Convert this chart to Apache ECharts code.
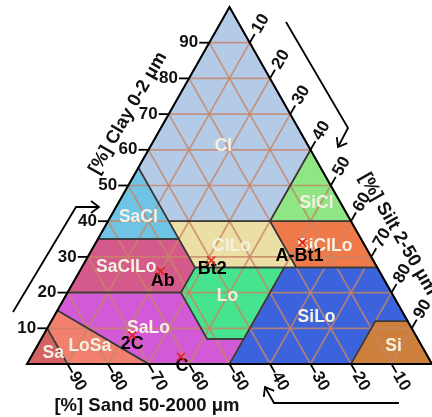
<!DOCTYPE html>
<html>
<head>
<meta charset="utf-8">
<script src="https://cdn.jsdelivr.net/npm/echarts@6/dist/echarts.min.js"></script>
<style>
  html, body { margin: 0; padding: 0; background: #ffffff; }
  #chart { width: 432px; height: 417px; }
</style>
</head>
<body>
<div id="chart"></div>
<script>
// Texture classes, each outlined by its corner points as [sand, silt, clay] in %
const classNames = ['Cl', 'SiCl', 'SaCl', 'ClLo', 'SiClLo', 'SaClLo', 'Lo', 'SiLo', 'Si', 'SaLo', 'LoSa', 'Sa'];
const classVertices = [
  [[45, 0, 55], [45, 15, 40], [20, 40, 40], [0, 40, 60], [0, 0, 100]],
  [[20, 40, 40], [0, 60, 40], [0, 40, 60]],
  [[65, 0, 35], [45, 20, 35], [45, 0, 55]],
  [[45, 20, 35], [45, 28, 27], [20, 53, 27], [20, 40, 40], [45, 15, 40]],
  [[20, 53, 27], [0, 73, 27], [0, 60, 40], [20, 40, 40]],
  [[80, 0, 20], [52, 28, 20], [45, 28, 27], [45, 20, 35], [65, 0, 35]],
  [[52, 41, 7], [43, 50, 7], [23, 50, 27], [45, 28, 27], [52, 28, 20]],
  [[50, 50, 0], [20, 80, 0], [8, 80, 12], [0, 88, 12], [0, 73, 27], [23, 50, 27], [43, 50, 7]],
  [[20, 80, 0], [0, 100, 0], [0, 88, 12], [8, 80, 12]],
  [[70, 30, 0], [50, 50, 0], [43, 50, 7], [52, 41, 7], [52, 28, 20], [80, 0, 20], [85, 0, 15]],
  [[90, 10, 0], [70, 30, 0], [85, 0, 15], [90, 0, 10]],
  [[100, 0, 0], [90, 10, 0], [90, 0, 10]]
];
const classColors = ['#b4cbe8', '#8ee684', '#6fc4e6', '#ebdfa5', '#f07a4a', '#d45a8c',
                     '#46e48e', '#3b63dc', '#cd803c', '#d25ad6', '#f2806e', '#d46262'];
// where each class name is written, as [sand, silt, clay]
const classLabelAt = [
  [21, 18, 61], [6, 49, 45], [52, 7, 41], [33, 34, 33], [10, 57, 33], [62, 11, 27],
  [41, 40, 19], [22, 65, 13], [7, 88, 5], [65, 25, 10], [82, 13, 5], [92, 5, 3]
];

// Soil horizons, [%] of each fraction
const sampleNames = ['Ab', 'Bt2', 'A-Bt1', '2C', 'C'];
const sampleSand = [54, 40, 15, 70, 61];
const sampleSilt = [20, 31, 51, 22, 37];
const sampleClay = [26, 29, 34, 8, 2];
const sampleLabelShift = [[2, 10], [1, 9], [-3, 13], [0, 9], [1, 9]];

// Axis tick values in %
const tickValues = [10, 20, 30, 40, 50, 60, 70, 80, 90];

const H = Math.sqrt(3) / 2;
function toXY(sand, silt, clay) {
  return [silt + clay / 2, clay * H];
}

const FAMILY = '"Liberation Sans", Arial, sans-serif';
const INK = '#111111';

function arrowHead(tip, dir, len, half) {
  const n = Math.hypot(dir[0], dir[1]);
  const d = [dir[0] / n, dir[1] / n];
  const p = [-d[1], d[0]];
  const b = [tip[0] - d[0] * len, tip[1] - d[1] * len];
  return [[b[0] + p[0] * half, b[1] + p[1] * half], tip, [b[0] - p[0] * half, b[1] - p[1] * half]];
}

const chart = echarts.init(document.getElementById('chart'), null, { renderer: 'canvas' });

const gridItems = [];
tickValues.forEach(v => { for (let k = 0; k < 3; k++) gridItems.push([k, v]); });

const option = {
  animation: false,
  grid: { left: 27, top: 7, width: 410, height: 357 },
  xAxis: { type: 'value', min: 0, max: 100, show: false },
  yAxis: { type: 'value', min: 0, max: 100 * H, show: false },
  series: [
    {
      // filled texture classes
      type: 'custom', coordinateSystem: 'cartesian2d', z: 1, silent: true,
      data: classNames.map((n, i) => [i, 0]),
      renderItem: (params, api) => {
        const i = api.value(0);
        const pts = classVertices[i].map(v => api.coord(toXY(v[0], v[1], v[2])));
        return { type: 'polygon', shape: { points: pts }, style: { fill: classColors[i], stroke: null } };
      }
    },
    {
      // 10 % grid for clay, sand and silt
      type: 'custom', coordinateSystem: 'cartesian2d', z: 2, silent: true,
      data: gridItems,
      renderItem: (params, api) => {
        const k = api.value(0), v = api.value(1);
        let a, b;
        if (k === 0) { a = toXY(100 - v, 0, v); b = toXY(0, 100 - v, v); }
        else if (k === 1) { a = toXY(v, 100 - v, 0); b = toXY(v, 0, 100 - v); }
        else { a = toXY(100 - v, v, 0); b = toXY(0, v, 100 - v); }
        const p1 = api.coord(a), p2 = api.coord(b);
        return { type: 'line', shape: { x1: p1[0], y1: p1[1], x2: p2[0], y2: p2[1] },
                 style: { stroke: 'rgba(200,132,100,0.8)', lineWidth: 1.7 } };
      }
    },
    {
      // class borders
      type: 'custom', coordinateSystem: 'cartesian2d', z: 3, silent: true,
      data: classNames.map((n, i) => [i, 0]),
      renderItem: (params, api) => {
        const i = api.value(0);
        const pts = classVertices[i].map(v => api.coord(toXY(v[0], v[1], v[2])));
        return { type: 'polygon', shape: { points: pts },
                 style: { fill: null, stroke: '#3a3a3a', lineWidth: 1.5, lineJoin: 'round' } };
      }
    },
    {
      // triangle frame
      type: 'custom', coordinateSystem: 'cartesian2d', z: 4, silent: true,
      data: [[0, 0]],
      renderItem: (params, api) => {
        const pts = [toXY(100, 0, 0), toXY(0, 100, 0), toXY(0, 0, 100)].map(p => api.coord(p));
        return { type: 'polygon', shape: { points: pts },
                 style: { fill: null, stroke: '#000', lineWidth: 2, lineJoin: 'miter' } };
      }
    },
    {
      // axis ticks and their numbers
      type: 'custom', coordinateSystem: 'cartesian2d', z: 4, silent: true,
      data: gridItems,
      renderItem: (params, api) => {
        const k = api.value(0), v = api.value(1);
        let p, dir, dist, rot, align;
        if (k === 0) {
          p = api.coord(toXY(100 - v, 0, v)); dir = [-1, 0]; dist = 11; rot = 0; align = 'right';
        } else if (k === 1) {
          p = api.coord(toXY(v, 100 - v, 0)); dir = [0.5, H]; dist = 20; rot = -Math.PI / 3; align = 'center';
        } else {
          p = api.coord(toXY(0, v, 100 - v)); dir = [0.5, -H]; dist = 22; rot = Math.PI / 3; align = 'center';
        }
        const tl = 10;
        return {
          type: 'group',
          children: [
            { type: 'line', shape: { x1: p[0], y1: p[1], x2: p[0] + dir[0] * tl, y2: p[1] + dir[1] * tl },
              style: { stroke: '#000', lineWidth: 1.8 } },
            { type: 'text', x: p[0] + dir[0] * dist, y: p[1] + dir[1] * dist, rotation: rot,
              style: { text: String(v), font: 'bold 17px ' + FAMILY, fill: INK, align: align, verticalAlign: 'middle' } }
          ]
        };
      }
    },
    {
      // class names
      type: 'custom', coordinateSystem: 'cartesian2d', z: 5, silent: true,
      data: classNames.map((n, i) => [i, 0]),
      renderItem: (params, api) => {
        const i = api.value(0);
        const a = classLabelAt[i];
        const p = api.coord(toXY(a[0], a[1], a[2]));
        return { type: 'text', x: p[0], y: p[1],
                 style: { text: classNames[i], font: 'bold 17.5px ' + FAMILY,
                          fill: '#f5f1e0', align: 'center', verticalAlign: 'middle' } };
      }
    },
    {
      // soil horizon positions and names
      type: 'custom', coordinateSystem: 'cartesian2d', z: 6, silent: true,
      data: sampleNames.map((n, i) => [i, 0]),
      renderItem: (params, api) => {
        const i = api.value(0);
        const p = api.coord(toXY(sampleSand[i], sampleSilt[i], sampleClay[i]));
        const s = 4;
        const sh = sampleLabelShift[i];
        return {
          type: 'group',
          children: [
            { type: 'text', x: p[0] + sh[0], y: p[1] + sh[1],
              style: { text: sampleNames[i], font: 'bold 18px ' + FAMILY,
                       fill: '#000', align: 'center', verticalAlign: 'middle' } },
            { type: 'line', shape: { x1: p[0] - s, y1: p[1] - s, x2: p[0] + s, y2: p[1] + s },
              style: { stroke: '#e4231c', lineWidth: 1.6 } },
            { type: 'line', shape: { x1: p[0] - s, y1: p[1] + s, x2: p[0] + s, y2: p[1] - s },
              style: { stroke: '#e4231c', lineWidth: 1.6 } }
          ]
        };
      }
    }
  ],
  graphic: [
    // axis titles
    { type: 'text', x: 128, y: 113, rotation: Math.PI / 3, z: 10,
      style: { text: '[%] Clay 0-2 \u03bcm', font: 'bold 18.5px ' + FAMILY,
               fill: INK, align: 'center', verticalAlign: 'middle' } },
    { type: 'text', x: 398, y: 234, rotation: -Math.PI / 3, z: 10,
      style: { text: '[%] Silt 2-50 \u03bcm', font: 'bold 18.5px ' + FAMILY,
               fill: INK, align: 'center', verticalAlign: 'middle' } },
    { type: 'text', x: 147, y: 406, z: 10,
      style: { text: '[%] Sand 50-2000 \u03bcm', font: 'bold 18.5px ' + FAMILY,
               fill: INK, align: 'center', verticalAlign: 'middle' } },
    // reading-direction arrows
    { type: 'polyline', z: 10, shape: { points: [[13, 312], [76, 207], [99, 207]] },
      style: { stroke: '#000', lineWidth: 1.8, fill: null } },
    { type: 'polyline', z: 10, shape: { points: arrowHead([99, 207], [1, 0], 8, 6) },
      style: { stroke: '#000', lineWidth: 1.8, fill: null } },
    { type: 'polyline', z: 10, shape: { points: [[286, 22], [348, 128], [338, 147]] },
      style: { stroke: '#000', lineWidth: 1.8, fill: null } },
    { type: 'polyline', z: 10, shape: { points: arrowHead([338, 147], [-0.5, H], 8, 6) },
      style: { stroke: '#000', lineWidth: 1.8, fill: null } },
    { type: 'polyline', z: 10, shape: { points: [[399, 403], [274, 403], [265, 387]] },
      style: { stroke: '#000', lineWidth: 1.8, fill: null } },
    { type: 'polyline', z: 10, shape: { points: arrowHead([265, 387], [-0.5, -H], 8, 6) },
      style: { stroke: '#000', lineWidth: 1.8, fill: null } }
  ]
};

chart.setOption(option);
</script>
</body>
</html>
